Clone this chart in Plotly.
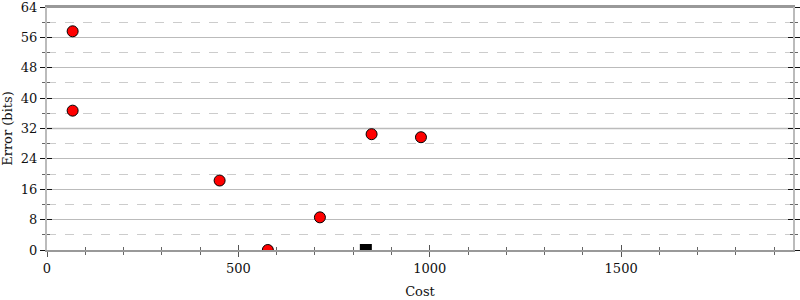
import plotly.graph_objects as go

# Data
cost = [67, 67, 451, 577, 713, 848, 977]
error = [57.6, 36.7, 18.3, 0, 8.6, 30.5, 29.7]
start_cost = [833]
start_error = [0]

x_range = [0, 1949]
y_range = [0, 64]
x_ticks = [0, 500, 1000, 1500]
y_ticks = [0, 8, 16, 24, 32, 40, 48, 56, 64]

font = dict(family="DejaVu Serif", size=13, color="#111")

fig = go.Figure()
fig.add_trace(go.Scatter(
    x=cost, y=error, mode="markers",
    marker=dict(color="red", size=11, line=dict(color="black", width=1)),
    cliponaxis=True, showlegend=False, hoverinfo="skip"))
fig.add_trace(go.Scatter(
    x=start_cost, y=start_error, mode="markers",
    marker=dict(color="black", size=12, symbol="square", line=dict(width=0)),
    cliponaxis=True, showlegend=False, hoverinfo="skip"))
# invisible trace on overlay axes so they render
fig.add_trace(go.Scatter(x=[None], y=[None], xaxis="x2", yaxis="y2",
                         showlegend=False, hoverinfo="skip"))

fig.add_hline(y=32, line=dict(color="#dddddd", width=2), layer="below")
fig.add_shape(type="line", xref="paper", yref="paper", x0=0, x1=1, y0=1, y1=1,
              line=dict(color="#999999", width=2), layer="above")

common_x = dict(range=x_range, tickvals=x_ticks, zeroline=False, automargin=False)
common_y = dict(range=y_range, tickvals=y_ticks, zeroline=False, automargin=False)

fig.update_layout(
    width=800, height=300,
    margin=dict(l=47, r=7, t=7, b=50),
    paper_bgcolor="white", plot_bgcolor="white",
    font=font,
    xaxis=dict(
        **common_x,
        ticks="outside", ticklen=5, tickcolor="#555", tickwidth=1,
        showline=True, linecolor="#999", linewidth=2, mirror=True,
        showgrid=False, ticklabeloverflow="allow",
        minor=dict(dtick=100, ticks="outside", ticklen=3, tickcolor="#666", showgrid=False),
        title=dict(text="Cost", font=font, standoff=12),
        tickfont=font,
    ),
    yaxis=dict(
        **common_y,
        ticks="outside", ticklen=5, tickcolor="#111", tickwidth=1,
        showline=True, linecolor="#bbb", linewidth=2, mirror="allticks",
        showgrid=True, gridcolor="#bbbbbb", gridwidth=1, ticklabeloverflow="allow",
        minor=dict(dtick=4, ticks="outside", ticklen=3, tickcolor="#666",
                   showgrid=True, gridcolor="#cccccc", griddash="dash", gridwidth=1),
        title=dict(text="Error (bits)", font=font, standoff=6),
        tickfont=font,
    ),
    xaxis2=dict(
        **common_x, overlaying="x", matches="x", anchor="y2",
        ticks="inside", ticklen=5, tickcolor="#555", showticklabels=False,
        showline=False, showgrid=False,
        minor=dict(dtick=100, ticks="inside", ticklen=3, tickcolor="#666", showgrid=False),
    ),
    yaxis2=dict(
        **common_y, overlaying="y", matches="y", anchor="x2",
        ticks="inside", ticklen=5, tickcolor="#111", showticklabels=False,
        showline=False, showgrid=False, mirror="allticks",
        minor=dict(dtick=4, ticks="inside", ticklen=3, tickcolor="#666", showgrid=False),
    ),
)

fig.write_html("out.html")
